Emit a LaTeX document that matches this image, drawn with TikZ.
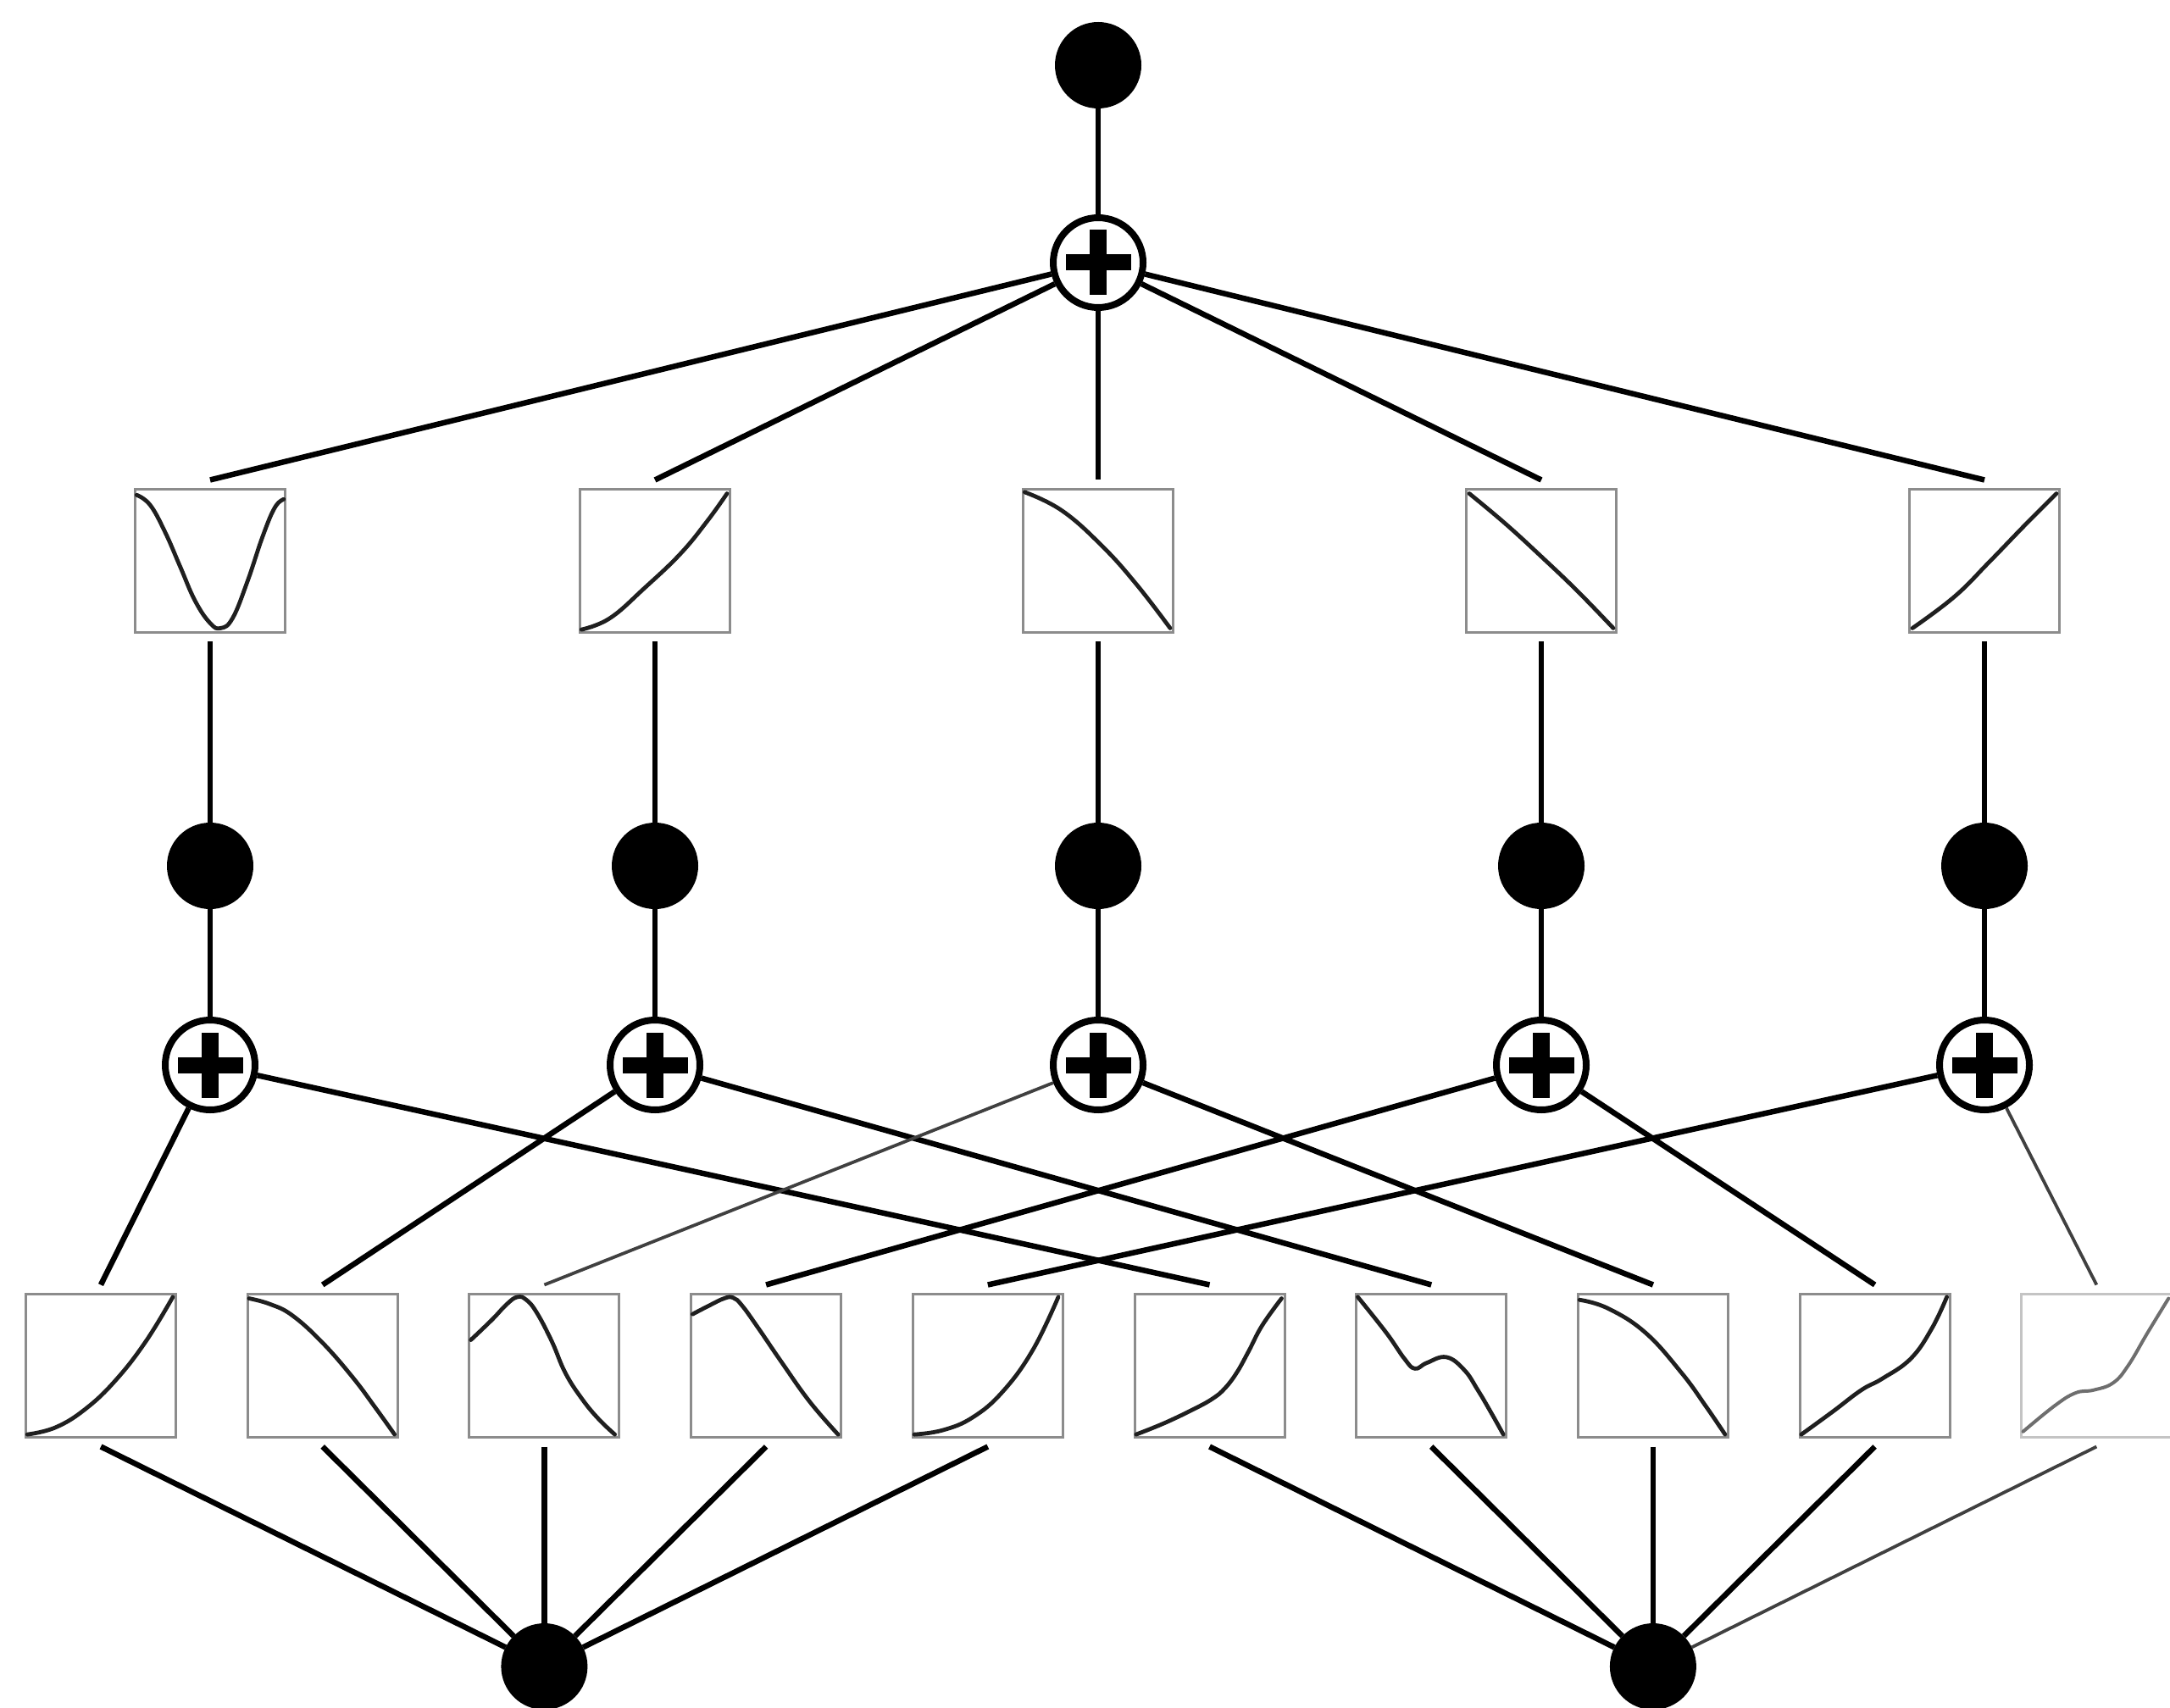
\documentclass[tikz,border=0pt]{standalone}
\usetikzlibrary{calc}
\definecolor{boxgray}{HTML}{8C8C8C}
\definecolor{boxlight}{HTML}{C4C4C4}
\definecolor{curvelight}{HTML}{6E6E6E}
\definecolor{thinline}{HTML}{404040}
\newcommand{\fcurve}[3][]{%
  \begin{scope}[shift={(#2.center)}, xshift=-0.885cm, yshift=-0.845cm, x=1.77cm, y=1.69cm]
    \draw[curve,#1] plot[smooth, tension=0.7] coordinates {#3};
  \end{scope}}
\begin{document}
\begin{tikzpicture}[
  conn/.style={line width=0.065cm, draw=black},
  thinconn/.style={line width=0.038cm, draw=thinline},
  dotnode/.style={circle, fill=black, minimum size=1.02cm, inner sep=0pt, outer sep=0pt},
  plusnode/.style={circle, draw=black, line width=0.08cm, fill=white, minimum size=1.06cm, inner sep=0pt,
    path picture={
      \fill[black] ($(path picture bounding box.center)+(-0.385,-0.095)$) rectangle ($(path picture bounding box.center)+(0.385,0.095)$);
      \fill[black] ($(path picture bounding box.center)+(-0.1,-0.385)$) rectangle ($(path picture bounding box.center)+(0.1,0.385)$);
    }},
  fbox/.style={rectangle, draw=boxgray, line width=0.03cm, minimum width=1.77cm, minimum height=1.69cm, inner sep=0pt, outer sep=0.11cm},
  curve/.style={line width=0.048cm, draw=black!88, line join=round, line cap=round},
]
\useasboundingbox (0,0) rectangle (25.61,-20.16);

% top
\node[dotnode] (tdot) at (12.96,-0.77) {};
\node[plusnode] (tplus) at (12.96,-3.10) {};

% middle layer
\foreach \i/\x in {1/2.48, 2/7.73, 3/12.96, 4/18.19, 5/23.42} {
  \node[fbox] (m\i) at (\x,-6.62) {};
  \node[dotnode] (md\i) at (\x,-10.22) {};
  \node[plusnode] (p\i) at (\x,-12.57) {};
}

% bottom boxes
\foreach \i in {1,...,9} {
  \node[fbox] (b\i) at ({1.19+2.617*(\i-1)},-16.12) {};
}
\node[fbox, draw=boxlight] (b10) at ({1.19+2.617*9},-16.12) {};

% bottom dots
\node[dotnode] (bd1) at ({1.19+2.617*2},-19.67) {};
\node[dotnode] (bd2) at ({1.19+2.617*7},-19.67) {};

% connectors top
\draw[conn] (tdot) -- (tplus);
\foreach \i in {1,...,5} {
  \draw[conn] (tplus) -- (m\i.north);
  \draw[conn] (m\i.south) -- (md\i);
  \draw[conn] (md\i) -- (p\i);
}

% crossing connectors
\draw[conn] (p1) -- (b1.north);
\draw[conn] (p1) -- (b6.north);
\draw[conn] (p2) -- (b2.north);
\draw[conn] (p2) -- (b7.north);
\draw[thinconn] (p3) -- (b3.north);
\draw[conn] (p3) -- (b8.north);
\draw[conn] (p4) -- (b4.north);
\draw[conn] (p4) -- (b9.north);
\draw[conn] (p5) -- (b5.north);
\draw[thinconn] (p5) -- (b10.north);

% to bottom dots
\foreach \i in {1,...,5} { \draw[conn] (b\i.south) -- (bd1); }
\foreach \i in {6,...,9} { \draw[conn] (b\i.south) -- (bd2); }
\draw[thinconn] (b10.south) -- (bd2);

% curves middle layer
\fcurve{m1}{(0.01,0.96) (0.1,0.89) (0.2,0.7) (0.3,0.46) (0.4,0.22) (0.5,0.065) (0.57,0.03) (0.65,0.1) (0.75,0.36) (0.85,0.67) (0.93,0.87) (0.99,0.93)}
\fcurve{m2}{(0.01,0.02) (0.2,0.1) (0.43,0.31) (0.67,0.55) (0.85,0.78) (0.98,0.97)}
\fcurve{m3}{(0.01,0.98) (0.26,0.85) (0.53,0.6) (0.76,0.33) (0.98,0.03)}
\fcurve{m4}{(0.02,0.97) (0.26,0.76) (0.5,0.53) (0.74,0.29) (0.98,0.03)}
\fcurve{m5}{(0.02,0.03) (0.3,0.25) (0.53,0.49) (0.77,0.75) (0.98,0.97)}

% curves bottom layer
\fcurve{b1}{(0.01,0.02) (0.2,0.07) (0.4,0.2) (0.6,0.4) (0.8,0.67) (0.98,0.98)}
\fcurve{b2}{(0.01,0.97) (0.15,0.93) (0.3,0.85) (0.5,0.66) (0.7,0.42) (0.85,0.21) (0.98,0.02)}
\fcurve{b3}{(0.01,0.68) (0.15,0.82) (0.25,0.93) (0.32,0.98) (0.38,0.96) (0.45,0.87) (0.55,0.67) (0.64,0.45) (0.75,0.27) (0.86,0.13) (0.97,0.02)}
\fcurve{b4}{(0.01,0.86) (0.12,0.92) (0.22,0.97) (0.28,0.975) (0.34,0.92) (0.45,0.76) (0.6,0.53) (0.79,0.25) (0.98,0.02)}
\fcurve{b5}{(0.01,0.02) (0.2,0.05) (0.4,0.14) (0.6,0.32) (0.8,0.61) (0.97,0.98)}
\fcurve{b6}{(0.01,0.02) (0.2,0.1) (0.4,0.2) (0.52,0.27) (0.6,0.34) (0.68,0.45) (0.76,0.6) (0.85,0.78) (0.98,0.97)}
\fcurve{b7}{(0.01,0.98) (0.2,0.73) (0.32,0.55) (0.39,0.48) (0.47,0.52) (0.6,0.56) (0.72,0.47) (0.81,0.33) (0.9,0.17) (0.98,0.02)}
\fcurve{b8}{(0.01,0.96) (0.2,0.9) (0.45,0.73) (0.69,0.45) (0.85,0.22) (0.98,0.02)}
\fcurve{b9}{(0.01,0.02) (0.22,0.18) (0.41,0.33) (0.55,0.41) (0.74,0.55) (0.88,0.76) (0.98,0.98)}
\fcurve[draw=curvelight, line width=0.04cm]{b10}{(0.01,0.04) (0.22,0.22) (0.36,0.31) (0.48,0.33) (0.61,0.38) (0.71,0.5) (0.84,0.73) (0.98,0.97)}
\end{tikzpicture}
\end{document}
